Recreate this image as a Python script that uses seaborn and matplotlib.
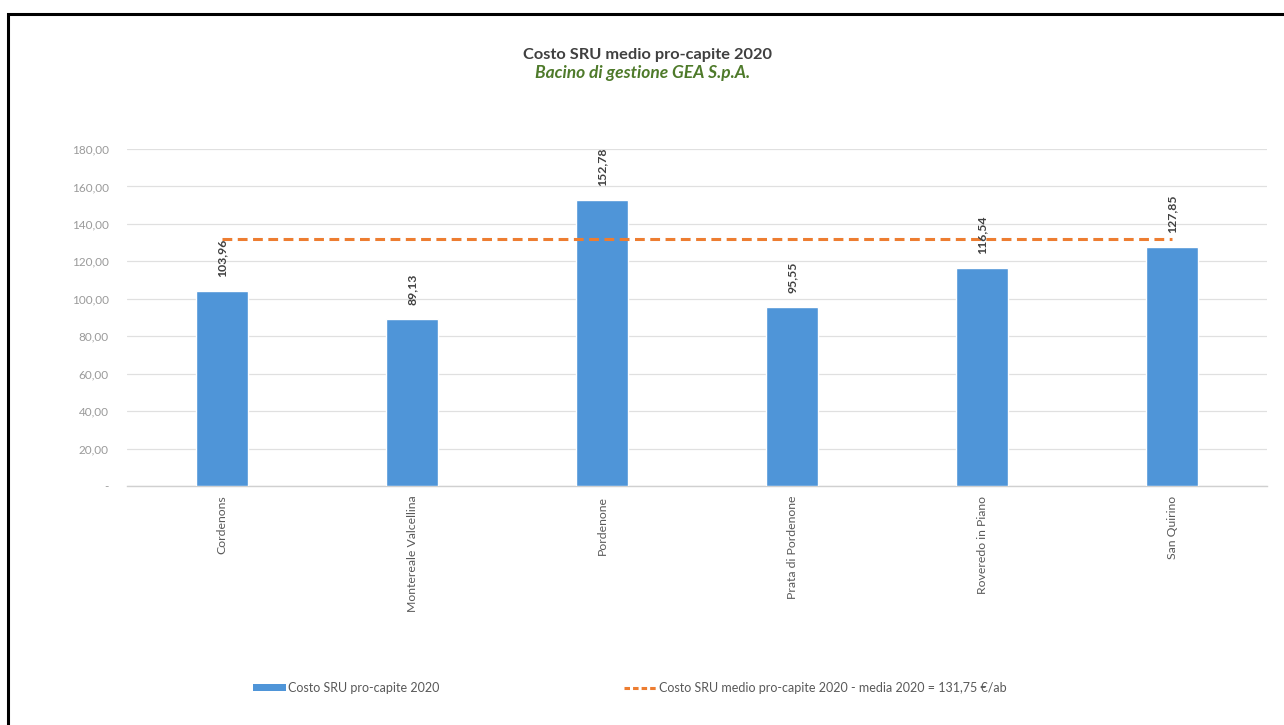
import matplotlib
matplotlib.use('Agg')
import matplotlib.pyplot as plt
import seaborn as sns
import numpy as np
from matplotlib.patches import Rectangle, Patch
from matplotlib.lines import Line2D

# Data
comuni = ['Cordenons', 'Montereale Valcellina', 'Pordenone', 'Prata di Pordenone',
          'Roveredo in Piano', 'San Quirino']
costo_pro_capite = [103.96, 89.13, 152.78, 95.55, 116.54, 127.85]
media_2020 = [131.75] * len(comuni)
y_ticks = [0, 20, 40, 60, 80, 100, 120, 140, 160, 180]

sns.set_theme(style='white')
plt.rcParams['font.family'] = ['Lato', 'DejaVu Sans']

W, H = 1284, 725
fig = plt.figure(figsize=(W / 100, H / 100), dpi=100)
fig.patch.set_facecolor('white')

# Plot area in pixel coordinates
left, right, top, bottom = 127, 1267, 149, 486
ax = fig.add_axes([left / W, 1 - bottom / H, (right - left) / W, (bottom - top) / H])

bar_color = '#4F95D8'
line_color = '#ED7D31'

sns.barplot(x=comuni, y=costo_pro_capite, color=bar_color, width=0.27,
            saturation=1, ax=ax, zorder=3)

ax.plot(np.arange(len(comuni)), media_2020, color=line_color, lw=2.2,
        ls=(0, (3.2, 1.8)), zorder=4)

# Data labels
for i, v in enumerate(costo_pro_capite):
    ax.annotate(f'{v:.2f}'.replace('.', ','), xy=(i, v), xytext=(0, 10),
                textcoords='offset points', rotation=90, ha='center', va='bottom',
                fontsize=8.8, fontweight='bold', color='#404040', zorder=5)

ax.set_xlim(-0.5, len(comuni) - 0.5)
ax.set_ylim(0, 180)
ax.set_yticks(y_ticks)
ax.set_yticklabels(['-' if t == 0 else f'{t:.2f}'.replace('.', ',') for t in y_ticks],
                   fontsize=8.5, color='#9A9A9A')
ax.set_xticks(range(len(comuni)))
ax.set_xticklabels(comuni, rotation=90, fontsize=8.8, color='#595959')
ax.tick_params(axis='y', length=0, pad=13)
ax.tick_params(axis='x', length=0, pad=7)
ax.set_xlabel('')
ax.set_ylabel('')
ax.yaxis.grid(True, color='#E0E0E0', lw=0.9, zorder=0)
ax.set_axisbelow(True)
for s in ['top', 'right', 'left']:
    ax.spines[s].set_visible(False)
ax.spines['bottom'].set_color('#D0D0D0')
ax.spines['bottom'].set_linewidth(1)

# Titles
fig.text(648 / W, 1 - 55 / H, 'Costo SRU medio pro-capite 2020', ha='center', va='center',
         fontsize=11.8, fontweight='bold', color='#404040')
fig.text(643 / W, 1 - 73 / H, 'Bacino di gestione GEA S.p.A.', ha='center', va='center',
         fontsize=12.5, fontweight='bold', style='italic', color='#4E7A2A')

# Legend
handles = [Patch(facecolor=bar_color, edgecolor='none'),
           Line2D([0], [0], color=line_color, lw=2.2, ls=(0, (1.8, 1.0)))]
labels = ['Costo SRU pro-capite 2020',
          'Costo SRU medio pro-capite 2020 - media 2020 = 131,75 €/ab']
leg = fig.legend(handles, labels, loc='center', bbox_to_anchor=(630 / W, 1 - 688 / H),
                 ncol=2, frameon=False, fontsize=9, handlelength=2.6, handleheight=0.5,
                 handletextpad=0.2, columnspacing=14.8)
for t in leg.get_texts():
    t.set_color('#595959')

# Outer frame (cropped on right and bottom)
fig.patches.append(Rectangle((8 / W, -0.1), 1.2, 1 - 14 / H + 0.1, transform=fig.transFigure,
                             fill=False, ec='black', lw=2.2))

fig.savefig('out.png', dpi=100)
